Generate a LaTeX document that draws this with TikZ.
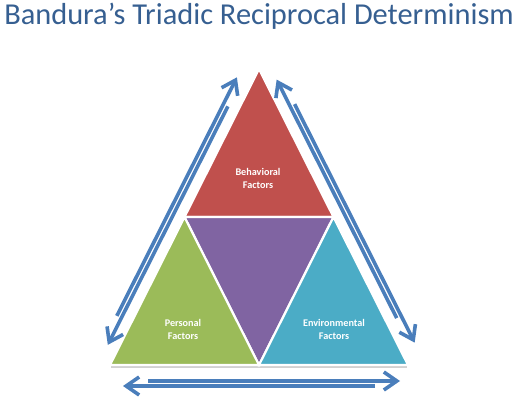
\documentclass[tikz,border=0pt]{standalone}
\usepackage{fontspec}
\setmainfont{Carlito}
\usetikzlibrary{arrows.meta}
\definecolor{titleblue}{HTML}{365F91}
\definecolor{cred}{HTML}{C0504D}
\definecolor{cpurple}{HTML}{8064A2}
\definecolor{cgreen}{HTML}{9BBB59}
\definecolor{caqua}{HTML}{4BACC6}
\definecolor{carrow}{HTML}{4A7EBB}
\tikzset{
  facet/.style={draw=white, line width=2.2pt, line join=miter},
  flow/.style={draw=carrow, line width=3.6pt, -{Straight Barb[length=13pt,width=18pt]}},
  lbl/.style={text=white, font=\fontsize{10.2}{13}\selectfont\bfseries, align=center},
}
\begin{document}
\begin{tikzpicture}[x=1pt,y=-1pt]
\useasboundingbox[fill=white] (0,0) rectangle (520,404);
\node[anchor=base, text=titleblue, font=\fontsize{30.4}{36}\selectfont, inner sep=0] (title) at (259,25) {Bandura’s Triadic Reciprocal Determinism};
% vertices
\coordinate (L) at (110,365);
\coordinate (R) at (408,365);
\coordinate (A) at (259,69);
\coordinate (ML) at (184.5,217);
\coordinate (MR) at (333.5,217);
\coordinate (MB) at (259,365);
% shadow
\fill[black!18] (111,367.5) -- (407,367.5) -- (407,366) -- (111,366) -- cycle;
% facets
\path[facet, fill=cred] (A) -- (MR) -- (ML) -- cycle;
\path[facet, fill=cpurple] (ML) -- (MR) -- (MB) -- cycle;
\path[facet, fill=cgreen] (L) -- (MB) -- (ML) -- cycle;
\path[facet, fill=caqua] (MB) -- (R) -- (MR) -- cycle;
% labels
\node[lbl] (beh) at (258,178) {Behavioral\\Factors};
\node[lbl] (per) at (183,329) {Personal\\Factors};
\node[lbl] (env) at (334,329) {Environmental\\Factors};
% arrow end points
\coordinate (lo1) at (116.84,315.83);
\coordinate (lo2) at (236.88,77.35);
\coordinate (li1) at (227.86,106.38);
\coordinate (li2) at (107.81,344.87);
\coordinate (ri1) at (396.70,318.07);
\coordinate (ri2) at (276.66,79.59);
\coordinate (ro1) at (294.60,104.14);
\coordinate (ro2) at (414.65,342.63);
\coordinate (bi1) at (148,381);
\coordinate (bi2) at (400,381);
\coordinate (bo1) at (375,386);
\coordinate (bo2) at (123,386);
\draw[flow] (lo1) -- (lo2);
\draw[flow] (li1) -- (li2);
\draw[flow] (ri1) -- (ri2);
\draw[flow] (ro1) -- (ro2);
\draw[flow] (bi1) -- (bi2);
\draw[flow] (bo1) -- (bo2);
\end{tikzpicture}
\end{document}
